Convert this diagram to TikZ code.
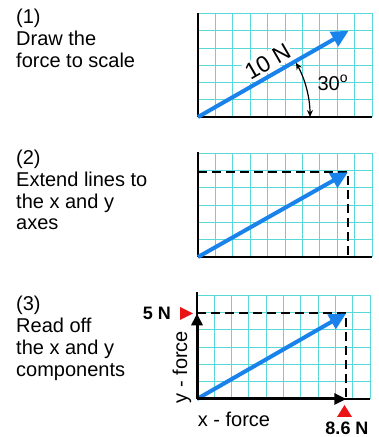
\documentclass[tikz,border=0pt]{standalone}
\usepackage{fontspec}
\setmainfont{Liberation Sans}
\usetikzlibrary{arrows.meta}
\definecolor{gridc}{RGB}{90,215,215}
\definecolor{forceblue}{RGB}{25,130,235}
\definecolor{markred}{RGB}{235,20,20}
\tikzset{
  gridline/.style={gridc, line width=0.9pt},
  axisline/.style={black, line width=1.6pt},
  force/.style={forceblue, line width=4pt, -{Triangle[length=17pt,width=16pt]}},
  dashline/.style={black, line width=1.8pt, dash pattern=on 9pt off 5pt},
  comp/.style={black, line width=3pt, -{Triangle[length=12pt,width=11pt]}},
  lbl/.style={font=\fontsize{20}{22}\selectfont, inner sep=0pt},
  steptext/.style={font=\fontsize{20}{22}\selectfont, inner sep=0pt, anchor=base west},
  boldlbl/.style={font=\fontsize{18}{20}\selectfont\bfseries, inner sep=0pt},
  redmark/.style={fill=markred, draw=none},
}
\begin{document}
\begin{tikzpicture}[x=1pt,y=1pt]
\useasboundingbox (0,0) rectangle (379,437);
\fill[white] (0,0) rectangle (379,437);

% ---------- left texts ----------
\node[steptext] (t1a) at (16,413) {(1)};
\node[steptext] (t1b) at (16,391) {Draw the};
\node[steptext] (t1c) at (16,369) {force to scale};
\node[steptext] (t2a) at (16,272) {(2)};
\node[steptext] (t2b) at (16,250) {Extend lines to};
\node[steptext] (t2c) at (16,228.5) {the x and y};
\node[steptext] (t2d) at (16,207) {axes};
\node[steptext] (t3a) at (16,126) {(3)};
\node[steptext] (t3b) at (16,104) {Read off};
\node[steptext] (t3c) at (16,82.5) {the x and y};
\node[steptext] (t3d) at (16,60) {components};

% ---------- panel 1 ----------
\begin{scope}[shift={(198,320)}, x=17.4pt, y=17.25pt]
  \foreach \i in {1,...,10} \draw[gridline] (\i,0) -- (\i,6);
  \foreach \j in {1,...,6} \draw[gridline] (0,\j) -- (10,\j);
  \coordinate (o1) at (0,0);
  \coordinate (top1) at (0,6.05);
  \coordinate (right1) at (10,0);
  \coordinate (tip1) at (8.66,5);
  \draw[axisline] (o1) -- (top1);
  \draw[axisline, line width=2pt] (o1) -- (right1);
  \node[font=\fontsize{23}{25}\selectfont, fill=white, inner sep=1.5pt, rotate=30] (f1) at (4.0,3.2) {10 N};
  \draw[force] (o1) -- (tip1);
  \draw[black, line width=1.2pt, {Stealth[length=7pt,width=6pt]}-{Stealth[length=7pt,width=6pt]}]
    (o1) ++(0:112pt) arc[start angle=0, end angle=29, radius=112pt];
  \node[lbl] (ang1) at (7.75,1.97) {30\textsuperscript{o}};
\end{scope}

% ---------- panel 2 ----------
\begin{scope}[shift={(198,180)}, x=17.4pt, y=17.3pt]
  \foreach \i in {1,...,10} \draw[gridline] (\i,0) -- (\i,6);
  \foreach \j in {1,...,6} \draw[gridline] (0,\j) -- (10,\j);
  \coordinate (o2) at (0,0);
  \coordinate (top2) at (0,6.05);
  \coordinate (right2) at (10,0);
  \coordinate (tip2) at (8.62,4.9);
  \coordinate (ylev2) at (0,4.9);
  \coordinate (xlev2) at (8.62,0);
  \draw[axisline] (o2) -- (top2);
  \draw[axisline, line width=2pt] (o2) -- (right2);
  \draw[dashline] (ylev2) -- (tip2) -- (xlev2);
  \draw[force] (o2) -- (tip2);
\end{scope}

% ---------- panel 3 ----------
\begin{scope}[shift={(197,38)}, x=17.3pt, y=17.3pt]
  \foreach \i in {1,...,10} \draw[gridline] (\i,0) -- (\i,6);
  \foreach \j in {1,...,6} \draw[gridline] (0,\j) -- (10,\j);
  \coordinate (o3) at (0,0);
  \coordinate (top3) at (0,6.2);
  \coordinate (right3) at (10,0);
  \coordinate (tip3) at (8.63,4.95);
  \coordinate (ylev3) at (0,4.95);
  \coordinate (xlev3) at (8.63,0);
  \draw[axisline] (o3) -- (top3);
  \draw[axisline, line width=2pt] (o3) -- (right3);
  \draw[dashline] (ylev3) -- (tip3) -- (xlev3);
  \draw[force] (o3) -- (tip3);
  \draw[comp] (o3) -- (ylev3);
  \draw[comp] (o3) -- (xlev3);
\end{scope}

\fill[redmark] (193,123.5) -- (180,130) -- (180,117) -- cycle;
\fill[redmark] (344.5,32) -- (352,20) -- (337,20) -- cycle;
\node[boldlbl] (fy) at (157,124) {5 N};
\node[boldlbl] (fx) at (347,9) {8.6 N};
\node[lbl] (xf) at (234,18) {x - force};
\node[lbl, rotate=90] (yf) at (182,70) {y - force};
\end{tikzpicture}
\end{document}
